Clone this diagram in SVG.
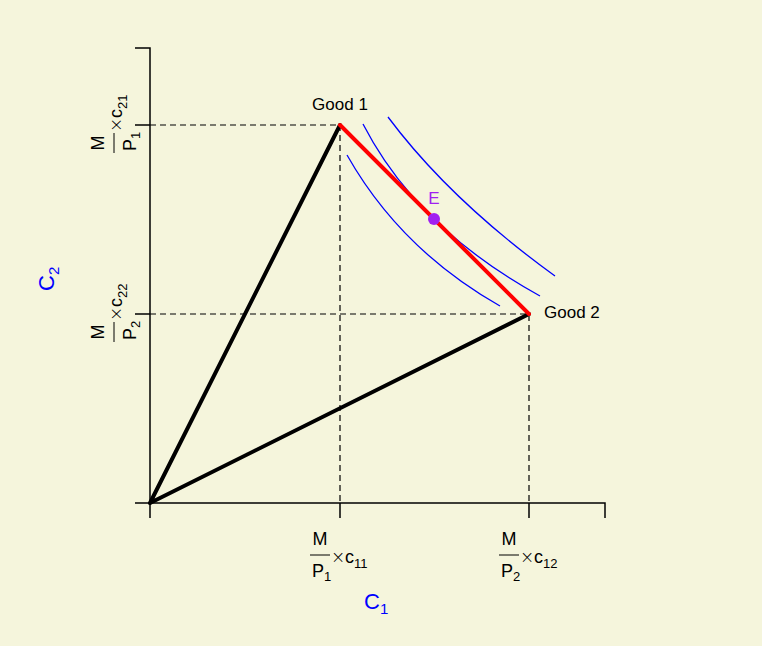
<svg xmlns="http://www.w3.org/2000/svg" width="762" height="646" viewBox="0 0 762 646">
<style>
text{font-family:"Liberation Sans",Arial,sans-serif;fill:#000}
.ax{stroke:#000;stroke-width:1.5;fill:none}
.dash{stroke:#000;stroke-width:1.2;stroke-dasharray:6,4;fill:none}
.ic{stroke:#0000ff;stroke-width:1.3;fill:none}
.big{font-size:17px}
.tk{font-size:18px}
.x{font-size:17px;font-family:"DejaVu Sans",sans-serif;font-weight:300}
.sub{font-size:13px}
.lab{font-size:22px;fill:#0000ff}
</style>
<rect x="0" y="0" width="762" height="646" fill="#f5f5dc"/>
<g id="axes">
<path class="ax" d="M135,48 H150 V518 M135,503 H605 V518"/>
<path class="ax" d="M135,125 H150 M135,314 H150 M340,503 V518 M529,503 V518"/>
</g>
<g id="connectors">
<path class="dash" d="M150,125 H340 V503"/>
<path class="dash" d="M150,314 H529 V503"/>
<path d="M150,503 L340,125 M150,503 L529,314" stroke="#000" stroke-width="4" fill="none" stroke-linecap="round"/>
<path class="ic" d="M347,155 Q400.5,249.5 500,306"/>
<path class="ic" d="M363,124 Q416.5,228 540,296"/>
<path class="ic" d="M388,117 Q450,200 555,276"/>
<path d="M340,125 L529,314" stroke="#ff0000" stroke-width="4" fill="none" stroke-linecap="round"/>
</g>
<g id="good1"><text class="big" x="340" y="110" text-anchor="middle">Good 1</text></g>
<g id="good2"><text class="big" x="544" y="318">Good 2</text></g>
<g id="E">
<circle cx="434" cy="219" r="6" fill="#a020f0"/>
<text class="big" x="434" y="204" text-anchor="middle" style="fill:#a020f0">E</text>
</g>
<g id="xlabel1" transform="translate(320,555)">
<text class="tk" x="0" y="-10" text-anchor="middle">M</text>
<path d="M-10,0 H10" stroke="#000" stroke-width="1"/>
<text class="tk" x="-8" y="22">P<tspan class="sub" dy="4">1</tspan></text>
<text class="x" x="11" y="8">×</text>
<text class="tk" x="25" y="8">c<tspan class="sub" dy="5">11</tspan></text>
</g>
<g id="xlabel2" transform="translate(509,555)">
<text class="tk" x="0" y="-10" text-anchor="middle">M</text>
<path d="M-10,0 H10" stroke="#000" stroke-width="1"/>
<text class="tk" x="-8" y="22">P<tspan class="sub" dy="4">2</tspan></text>
<text class="x" x="11" y="8">×</text>
<text class="tk" x="25" y="8">c<tspan class="sub" dy="5">12</tspan></text>
</g>
<g id="ylabel1" transform="translate(114,143) rotate(-90)">
<text class="tk" x="0" y="-10" text-anchor="middle">M</text>
<path d="M-10,0 H10" stroke="#000" stroke-width="1"/>
<text class="tk" x="-8" y="22">P<tspan class="sub" dy="4">1</tspan></text>
<text class="x" x="11" y="8">×</text>
<text class="tk" x="25" y="8">c<tspan class="sub" dy="5">21</tspan></text>
</g>
<g id="ylabel2" transform="translate(114,332) rotate(-90)">
<text class="tk" x="0" y="-10" text-anchor="middle">M</text>
<path d="M-10,0 H10" stroke="#000" stroke-width="1"/>
<text class="tk" x="-8" y="22">P<tspan class="sub" dy="4">2</tspan></text>
<text class="x" x="11" y="8">×</text>
<text class="tk" x="25" y="8">c<tspan class="sub" dy="5">22</tspan></text>
</g>
<g id="c1"><text class="lab" x="364" y="609">C<tspan font-size="15" dy="5">1</tspan></text></g>
<g id="c2" transform="translate(54,291) rotate(-90)"><text class="lab" x="0" y="0">C<tspan font-size="15" dy="5">2</tspan></text></g>
</svg>
